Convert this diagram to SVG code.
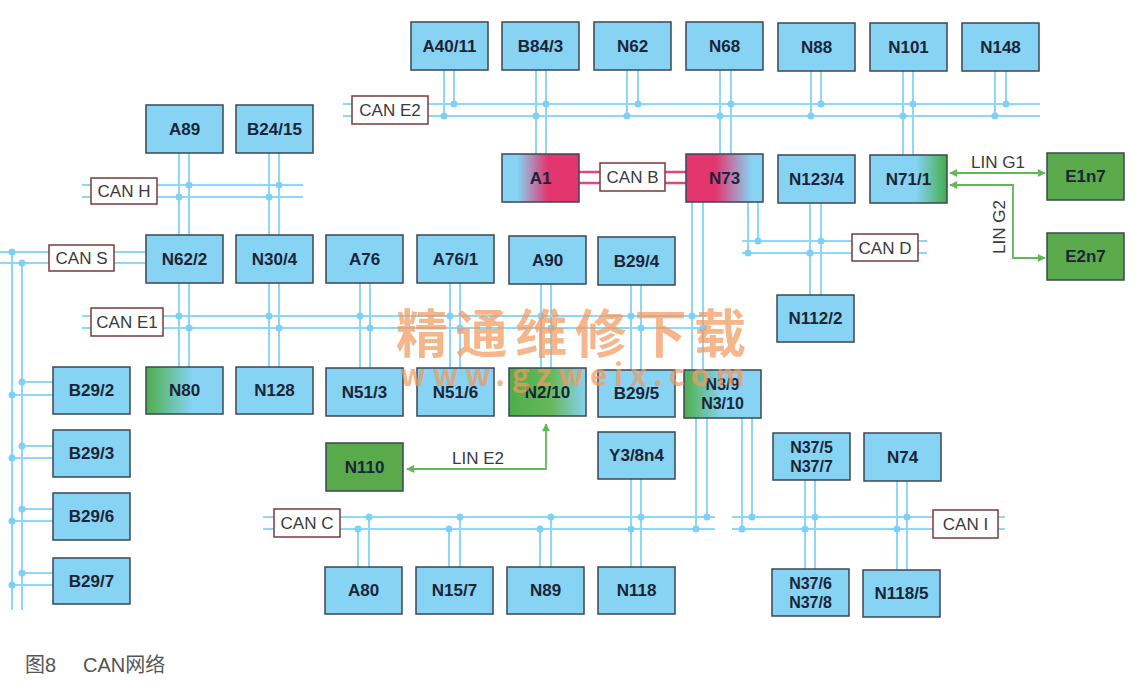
<svg xmlns="http://www.w3.org/2000/svg" width="1145" height="693" viewBox="0 0 1145 693">
<style>
.n rect{stroke:#3b4656;stroke-width:1.5}
.bl{fill:#86d3f3}
.gr{fill:#5aa94a}
.t{font-family:"Liberation Sans",Arial,sans-serif;font-weight:bold;font-size:17px;fill:#1b2537;text-anchor:middle}
.t2{font-family:"Liberation Sans",Arial,sans-serif;font-weight:bold;font-size:16px;fill:#1b2537;text-anchor:middle}
.bus line,.bus path{stroke:#8ed7f7;stroke-width:2;fill:none}
.bus circle{fill:#7fd0f6}
.cb{stroke:#e6457b;stroke-width:2.5}
.cl rect{fill:#fff;stroke:#7a3a3a;stroke-width:1.5}
.cl text,.ll{font-family:"Liberation Sans",Arial,sans-serif;font-size:17px;fill:#3a3a3a;text-anchor:middle}
.lin{stroke:#5fba55;stroke-width:1.8;fill:none;marker-start:url(#ag);marker-end:url(#ag)}
.wm{font-family:"Noto Sans CJK SC","Liberation Sans",sans-serif;font-weight:bold;fill:#f39a60;opacity:0.72}
.cap{font-family:"Liberation Sans","Noto Sans CJK SC",sans-serif;font-size:20px;fill:#555}
</style>
<defs>
<marker id="ag" viewBox="0 0 10 10" refX="9" refY="5" markerWidth="10" markerHeight="8" markerUnits="userSpaceOnUse" orient="auto-start-reverse"><path d="M0,0 L10,5 L0,10 z" fill="#5fba55"/></marker>
<linearGradient id="gA1" x1="0" y1="0" x2="1" y2="0"><stop offset="0" stop-color="#86d3f3"/><stop offset="0.2" stop-color="#86d3f3"/><stop offset="0.6" stop-color="#e3356e"/><stop offset="1" stop-color="#e3356e"/></linearGradient>
<linearGradient id="gN73" x1="0" y1="0" x2="1" y2="0"><stop offset="0" stop-color="#e3356e"/><stop offset="0.38" stop-color="#e3356e"/><stop offset="0.85" stop-color="#86d3f3"/><stop offset="1" stop-color="#86d3f3"/></linearGradient>
<linearGradient id="gN71" x1="0" y1="0" x2="1" y2="0"><stop offset="0" stop-color="#86d3f3"/><stop offset="0.6" stop-color="#86d3f3"/><stop offset="1" stop-color="#43ad48"/></linearGradient>
<linearGradient id="gN80" x1="0" y1="0" x2="1" y2="0"><stop offset="0" stop-color="#4fae49"/><stop offset="0.6" stop-color="#86d3f3"/><stop offset="1" stop-color="#86d3f3"/></linearGradient>
<linearGradient id="gN210" x1="0" y1="0" x2="1" y2="0"><stop offset="0" stop-color="#4fae49"/><stop offset="0.55" stop-color="#66b85a"/><stop offset="1" stop-color="#86d3f3"/></linearGradient>
<linearGradient id="gN39" x1="0" y1="0" x2="1" y2="0"><stop offset="0" stop-color="#4fae49"/><stop offset="0.5" stop-color="#86d3f3"/><stop offset="1" stop-color="#86d3f3"/></linearGradient>
</defs>
<rect width="1145" height="693" fill="#fff"/>

<g id="connectors">
<g class="bus">
<!-- CAN E2 -->
<line x1="343" y1="104" x2="1040" y2="104"/><line x1="343" y1="116" x2="1040" y2="116"/>
<line x1="444" y1="70" x2="444" y2="116"/><line x1="454" y1="70" x2="454" y2="104"/>
<line x1="536" y1="70" x2="536" y2="154"/><line x1="546" y1="70" x2="546" y2="154"/>
<line x1="627" y1="70" x2="627" y2="116"/><line x1="638" y1="70" x2="638" y2="104"/>
<line x1="720" y1="70" x2="720" y2="154"/><line x1="731" y1="70" x2="731" y2="154"/>
<line x1="811" y1="71" x2="811" y2="116"/><line x1="821" y1="71" x2="821" y2="104"/>
<line x1="903" y1="71" x2="903" y2="155"/><line x1="913" y1="71" x2="913" y2="155"/>
<line x1="995" y1="71" x2="995" y2="116"/><line x1="1006" y1="71" x2="1006" y2="104"/>
<circle cx="454" cy="104" r="3.5"/><circle cx="444" cy="116" r="3.5"/>
<circle cx="546" cy="104" r="3.5"/><circle cx="536" cy="116" r="3.5"/>
<circle cx="638" cy="104" r="3.5"/><circle cx="627" cy="116" r="3.5"/>
<circle cx="731" cy="104" r="3.5"/><circle cx="720" cy="116" r="3.5"/>
<circle cx="821" cy="104" r="3.5"/><circle cx="811" cy="116" r="3.5"/>
<circle cx="913" cy="104" r="3.5"/><circle cx="903" cy="116" r="3.5"/>
<circle cx="1006" cy="104" r="3.5"/><circle cx="995" cy="116" r="3.5"/>
<!-- CAN H -->
<line x1="82" y1="185" x2="303" y2="185"/><line x1="82" y1="197" x2="303" y2="197"/>
<line x1="179" y1="153" x2="179" y2="235"/><line x1="189" y1="153" x2="189" y2="235"/>
<line x1="269" y1="153" x2="269" y2="235"/><line x1="279" y1="153" x2="279" y2="235"/>
<circle cx="189" cy="185" r="3.5"/><circle cx="179" cy="197" r="3.5"/>
<circle cx="279" cy="185" r="3.5"/><circle cx="269" cy="197" r="3.5"/>
<!-- CAN S -->
<line x1="0" y1="252" x2="146" y2="252"/><line x1="0" y1="263" x2="146" y2="263"/>
<line x1="12" y1="252" x2="12" y2="610"/><line x1="22" y1="263" x2="22" y2="610"/>
<circle cx="12" cy="252" r="3.5"/><circle cx="22" cy="263" r="3.5"/>
<line x1="22" y1="382" x2="53" y2="382"/><line x1="12" y1="395" x2="53" y2="395"/>
<line x1="22" y1="446" x2="53" y2="446"/><line x1="12" y1="458" x2="53" y2="458"/>
<line x1="22" y1="509" x2="53" y2="509"/><line x1="12" y1="521" x2="53" y2="521"/>
<line x1="22" y1="573" x2="53" y2="573"/><line x1="12" y1="585" x2="53" y2="585"/>
<circle cx="22" cy="382" r="3.5"/><circle cx="12" cy="395" r="3.5"/>
<circle cx="22" cy="446" r="3.5"/><circle cx="12" cy="458" r="3.5"/>
<circle cx="22" cy="509" r="3.5"/><circle cx="12" cy="521" r="3.5"/>
<circle cx="22" cy="573" r="3.5"/><circle cx="12" cy="585" r="3.5"/>
<!-- CAN E1 -->
<line x1="82" y1="316" x2="706" y2="316"/><line x1="82" y1="328" x2="706" y2="328"/>
<line x1="179" y1="283" x2="179" y2="367"/><line x1="189" y1="283" x2="189" y2="367"/>
<line x1="269" y1="283" x2="269" y2="367"/><line x1="279" y1="283" x2="279" y2="367"/>
<line x1="360" y1="283" x2="360" y2="368"/><line x1="370" y1="283" x2="370" y2="368"/>
<line x1="450" y1="283" x2="450" y2="368"/><line x1="460" y1="283" x2="460" y2="368"/>
<line x1="541" y1="284" x2="541" y2="368"/><line x1="551" y1="284" x2="551" y2="368"/>
<line x1="631" y1="285" x2="631" y2="370"/><line x1="641" y1="285" x2="641" y2="370"/>
<line x1="692" y1="202" x2="692" y2="370"/><line x1="703" y1="202" x2="703" y2="370"/>
<circle cx="179" cy="316" r="3.5"/><circle cx="189" cy="328" r="3.5"/>
<circle cx="269" cy="316" r="3.5"/><circle cx="279" cy="328" r="3.5"/>
<circle cx="360" cy="316" r="3.5"/><circle cx="370" cy="328" r="3.5"/>
<circle cx="450" cy="316" r="3.5"/><circle cx="460" cy="328" r="3.5"/>
<circle cx="541" cy="316" r="3.5"/><circle cx="551" cy="328" r="3.5"/>
<circle cx="631" cy="316" r="3.5"/><circle cx="641" cy="328" r="3.5"/>
<circle cx="692" cy="316" r="3.5"/><circle cx="703" cy="328" r="3.5"/>
<!-- CAN D -->
<line x1="742" y1="241" x2="927" y2="241"/><line x1="742" y1="253" x2="927" y2="253"/>
<line x1="748" y1="202" x2="748" y2="253"/><line x1="758" y1="202" x2="758" y2="241"/>
<line x1="810" y1="203" x2="810" y2="295"/><line x1="821" y1="203" x2="821" y2="295"/>
<circle cx="758" cy="241" r="3.5"/><circle cx="748" cy="253" r="3.5"/>
<circle cx="821" cy="241" r="3.5"/><circle cx="810" cy="253" r="3.5"/>
<!-- CAN C -->
<line x1="263" y1="517" x2="715" y2="517"/><line x1="263" y1="529" x2="715" y2="529"/>
<line x1="369" y1="517" x2="369" y2="568"/><line x1="358" y1="529" x2="358" y2="568"/>
<line x1="460" y1="517" x2="460" y2="568"/><line x1="449" y1="529" x2="449" y2="568"/>
<line x1="551" y1="517" x2="551" y2="568"/><line x1="540" y1="529" x2="540" y2="568"/>
<line x1="631" y1="479" x2="631" y2="568"/><line x1="641" y1="479" x2="641" y2="568"/>
<line x1="707" y1="418" x2="707" y2="517"/><line x1="696" y1="418" x2="696" y2="529"/>
<circle cx="369" cy="517" r="3.5"/><circle cx="358" cy="529" r="3.5"/>
<circle cx="460" cy="517" r="3.5"/><circle cx="449" cy="529" r="3.5"/>
<circle cx="551" cy="517" r="3.5"/><circle cx="540" cy="529" r="3.5"/>
<circle cx="641" cy="517" r="3.5"/><circle cx="631" cy="529" r="3.5"/>
<circle cx="707" cy="517" r="3.5"/><circle cx="696" cy="529" r="3.5"/>
<!-- CAN I -->
<line x1="732" y1="517" x2="1005" y2="517"/><line x1="732" y1="529" x2="1005" y2="529"/>
<line x1="752" y1="418" x2="752" y2="517"/><line x1="742" y1="418" x2="742" y2="529"/>
<line x1="805" y1="480" x2="805" y2="569"/><line x1="815" y1="480" x2="815" y2="569"/>
<line x1="897" y1="481" x2="897" y2="570"/><line x1="907" y1="481" x2="907" y2="570"/>
<circle cx="752" cy="517" r="3.5"/><circle cx="742" cy="529" r="3.5"/>
<circle cx="815" cy="517" r="3.5"/><circle cx="805" cy="529" r="3.5"/>
<circle cx="907" cy="517" r="3.5"/><circle cx="897" cy="529" r="3.5"/>
</g>
<!-- CAN B -->
<line class="cb" x1="579" y1="172" x2="686" y2="172"/><line class="cb" x1="579" y1="183" x2="686" y2="183"/>
<!-- LIN -->
<path class="lin" d="M546,424 V469 H407"/>
<path class="lin" d="M950,173 H1045"/>
<path class="lin" d="M950,185 H1013 V258 H1045"/>
<text class="ll" x="478" y="464">LIN E2</text>
<text class="ll" x="998" y="168">LIN G1</text>
<text class="ll" transform="translate(1005,227) rotate(-90)">LIN G2</text>
</g>

<g id="buslabels" class="cl">
<g id="lbl-can-e2"><rect x="352" y="96" width="76" height="28"/><text x="390" y="116">CAN E2</text></g>
<g id="lbl-can-b"><rect x="600" y="163" width="65" height="28"/><text x="632.5" y="183">CAN B</text></g>
<g id="lbl-can-h"><rect x="91" y="178" width="66" height="26"/><text x="124" y="197">CAN H</text></g>
<g id="lbl-can-s"><rect x="49" y="245" width="65" height="26"/><text x="81.5" y="264">CAN S</text></g>
<g id="lbl-can-e1"><rect x="91" y="308" width="72" height="28"/><text x="127" y="328">CAN E1</text></g>
<g id="lbl-can-d"><rect x="852" y="234" width="66" height="27"/><text x="885" y="254">CAN D</text></g>
<g id="lbl-can-c"><rect x="274" y="509" width="66" height="28"/><text x="307" y="529">CAN C</text></g>
<g id="lbl-can-i"><rect x="933" y="510" width="65" height="28"/><text x="965.5" y="530">CAN I</text></g>
</g>

<g id="A40-11" class="n"><rect class="bl" x="411" y="22" width="77" height="48"/><text class="t" x="449.5" y="52">A40/11</text></g>
<g id="B84-3" class="n"><rect class="bl" x="502" y="22" width="77" height="48"/><text class="t" x="540.5" y="52">B84/3</text></g>
<g id="N62" class="n"><rect class="bl" x="594" y="22" width="77" height="48"/><text class="t" x="632.5" y="52">N62</text></g>
<g id="N68" class="n"><rect class="bl" x="686" y="22" width="77" height="48"/><text class="t" x="724.5" y="52">N68</text></g>
<g id="N88" class="n"><rect class="bl" x="778" y="23" width="77" height="48"/><text class="t" x="816.5" y="53">N88</text></g>
<g id="N101" class="n"><rect class="bl" x="870" y="23" width="77" height="48"/><text class="t" x="908.5" y="53">N101</text></g>
<g id="N148" class="n"><rect class="bl" x="962" y="23" width="77" height="48"/><text class="t" x="1000.5" y="53">N148</text></g>

<g id="A1" class="n"><rect x="502" y="154" width="77" height="48" fill="url(#gA1)"/><text class="t" x="540.5" y="184">A1</text></g>
<g id="N73" class="n"><rect x="686" y="154" width="77" height="48" fill="url(#gN73)"/><text class="t" x="724.5" y="184">N73</text></g>
<g id="N123-4" class="n"><rect class="bl" x="778" y="155" width="77" height="48"/><text class="t" x="816.5" y="185">N123/4</text></g>
<g id="N71-1" class="n"><rect x="870" y="155" width="77" height="48" fill="url(#gN71)"/><text class="t" x="908.5" y="185">N71/1</text></g>
<g id="E1n7" class="n"><rect class="gr" x="1047" y="153" width="77" height="47"/><text class="t" x="1085.5" y="182">E1n7</text></g>
<g id="E2n7" class="n"><rect class="gr" x="1047" y="233" width="77" height="47"/><text class="t" x="1085.5" y="262">E2n7</text></g>
<g id="N112-2" class="n"><rect class="bl" x="777" y="295" width="77" height="47"/><text class="t" x="815.5" y="324">N112/2</text></g>

<g id="A89" class="n"><rect class="bl" x="146" y="105" width="77" height="48"/><text class="t" x="184.5" y="135">A89</text></g>
<g id="B24-15" class="n"><rect class="bl" x="236" y="105" width="77" height="48"/><text class="t" x="274.5" y="135">B24/15</text></g>

<g id="N62-2" class="n"><rect class="bl" x="146" y="235" width="77" height="48"/><text class="t" x="184.5" y="265">N62/2</text></g>
<g id="N30-4" class="n"><rect class="bl" x="236" y="235" width="77" height="48"/><text class="t" x="274.5" y="265">N30/4</text></g>
<g id="A76" class="n"><rect class="bl" x="326" y="235" width="77" height="48"/><text class="t" x="364.5" y="265">A76</text></g>
<g id="A76-1" class="n"><rect class="bl" x="417" y="235" width="77" height="48"/><text class="t" x="455.5" y="265">A76/1</text></g>
<g id="A90" class="n"><rect class="bl" x="509" y="236" width="77" height="48"/><text class="t" x="547.5" y="266">A90</text></g>
<g id="B29-4" class="n"><rect class="bl" x="598" y="237" width="77" height="48"/><text class="t" x="636.5" y="267">B29/4</text></g>

<g id="B29-2" class="n"><rect class="bl" x="53" y="367" width="77" height="47"/><text class="t" x="91.5" y="396">B29/2</text></g>
<g id="N80" class="n"><rect x="146" y="367" width="77" height="47" fill="url(#gN80)"/><text class="t" x="184.5" y="396">N80</text></g>
<g id="N128" class="n"><rect class="bl" x="236" y="367" width="77" height="47"/><text class="t" x="274.5" y="396">N128</text></g>
<g id="N51-3" class="n"><rect class="bl" x="326" y="368" width="77" height="48"/><text class="t" x="364.5" y="398">N51/3</text></g>
<g id="N51-6" class="n"><rect class="bl" x="417" y="368" width="77" height="48"/><text class="t" x="455.5" y="398">N51/6</text></g>
<g id="N2-10" class="n"><rect x="509" y="368" width="77" height="48" fill="url(#gN210)"/><text class="t" x="547.5" y="398">N2/10</text></g>
<g id="B29-5" class="n"><rect class="bl" x="598" y="370" width="77" height="47"/><text class="t" x="636.5" y="399">B29/5</text></g>
<g id="N3-9" class="n"><rect x="684" y="370" width="77" height="48" fill="url(#gN39)"/><text class="t2" x="722.5" y="390">N3/9</text><text class="t2" x="722.5" y="409">N3/10</text></g>

<g id="B29-3" class="n"><rect class="bl" x="53" y="430" width="77" height="47"/><text class="t" x="91.5" y="459">B29/3</text></g>
<g id="B29-6" class="n"><rect class="bl" x="53" y="493" width="77" height="47"/><text class="t" x="91.5" y="522">B29/6</text></g>
<g id="B29-7" class="n"><rect class="bl" x="53" y="558" width="77" height="46"/><text class="t" x="91.5" y="587">B29/7</text></g>

<g id="N110" class="n"><rect class="gr" x="326" y="443" width="77" height="48"/><text class="t" x="364.5" y="473">N110</text></g>
<g id="Y3-8n4" class="n"><rect class="bl" x="598" y="432" width="77" height="47"/><text class="t" x="636.5" y="461">Y3/8n4</text></g>
<g id="N37-5" class="n"><rect class="bl" x="773" y="433" width="77" height="47"/><text class="t2" x="811.5" y="453">N37/5</text><text class="t2" x="811.5" y="472">N37/7</text></g>
<g id="N74" class="n"><rect class="bl" x="864" y="433" width="77" height="48"/><text class="t" x="902.5" y="463">N74</text></g>

<g id="A80" class="n"><rect class="bl" x="325" y="567" width="77" height="47"/><text class="t" x="363.5" y="596">A80</text></g>
<g id="N15-7" class="n"><rect class="bl" x="416" y="567" width="77" height="47"/><text class="t" x="454.5" y="596">N15/7</text></g>
<g id="N89" class="n"><rect class="bl" x="507" y="567" width="77" height="47"/><text class="t" x="545.5" y="596">N89</text></g>
<g id="N118" class="n"><rect class="bl" x="598" y="567" width="77" height="47"/><text class="t" x="636.5" y="596">N118</text></g>
<g id="N37-6" class="n"><rect class="bl" x="772" y="569" width="77" height="47"/><text class="t2" x="810.5" y="589">N37/6</text><text class="t2" x="810.5" y="608">N37/8</text></g>
<g id="N118-5" class="n"><rect class="bl" x="863" y="570" width="77" height="47"/><text class="t" x="901.5" y="599">N118/5</text></g>

<g id="watermark">
<text class="wm" x="396" y="353" font-size="52" textLength="350" lengthAdjust="spacing">精通维修下载</text>
<text class="wm" x="400" y="386" font-size="30" font-family="Liberation Sans" textLength="345" lengthAdjust="spacing">www.gzweix.com</text>
</g>

<g id="caption" class="cap"><text x="25" y="672">图8</text><text x="83" y="672">CAN网络</text></g>
</svg>
